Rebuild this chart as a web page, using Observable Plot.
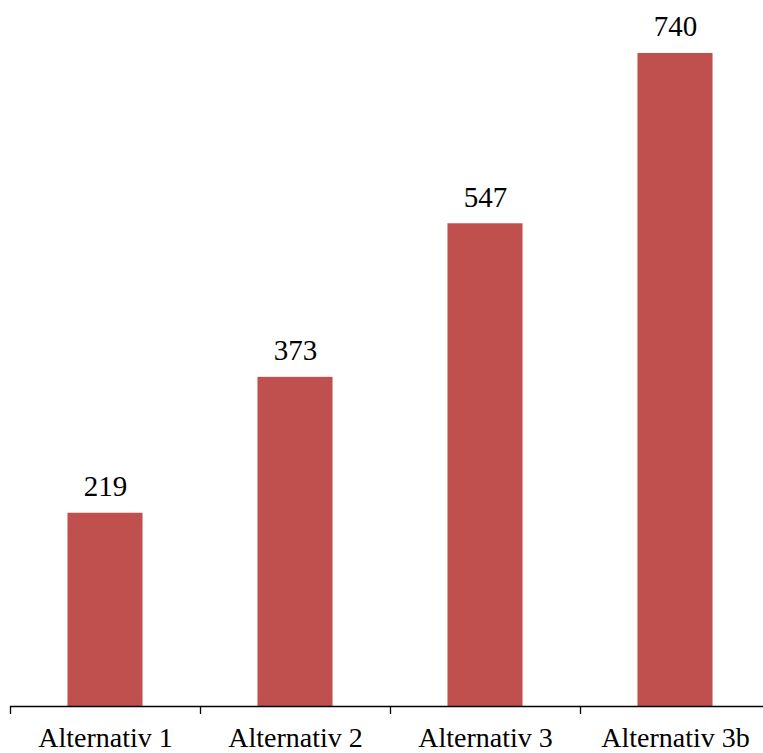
<!DOCTYPE html>
<html>
<head>
<meta charset="utf-8">
<script src="https://cdn.jsdelivr.net/npm/d3@7"></script>
<script src="https://cdn.jsdelivr.net/npm/@observablehq/plot@0.6"></script>
<style>
  html, body { margin: 0; padding: 0; background: #fff; overflow: hidden; }
  #chart svg { display: block; }
  #chart svg, #chart svg text { font-family: "Liberation Serif", "Times New Roman", Times, serif !important; }
</style>
</head>
<body>
<div id="chart"></div>
<script>
// Values per alternative
const categories = ["Alternativ 1", "Alternativ 2", "Alternativ 3", "Alternativ 3b"];
const values = [219, 373, 547, 740];
const yMax = 800;

const rows = categories.map((c, i) => ({category: c, value: values[i]}));

const width = 763;
const height = 753;
const marginLeft = 10;
const marginRight = -7;
const step = (width - marginLeft - marginRight) / categories.length;
const font = "Liberation Serif, Times New Roman, Times, serif";
const barColor = "#C0504D";

const chart = Plot.plot({
  width,
  height,
  marginLeft,
  marginRight,
  marginTop: 0,
  marginBottom: 47,
  style: {background: "#fff", color: "#000"},
  x: {domain: categories, paddingInner: 0.605, paddingOuter: 0.3025, align: 0.5, round: false, label: null},
  y: {domain: [0, yMax], axis: null},
  marks: [
    Plot.barY(rows, {x: "category", y: "value", fill: barColor}),
    Plot.text(rows, {
      x: "category", y: "value", text: d => String(d.value),
      lineAnchor: "bottom", dy: -17, fontSize: 29, fontFamily: font, fill: "#000"
    }),
    Plot.ruleY([0], {stroke: "#000", strokeWidth: 1.3}),
    // category boundary ticks below the baseline
    Plot.ruleX(categories, {x: d => d, y1: 0, y2: 0, dx: -step / 2, insetBottom: -8, stroke: "#000", strokeWidth: 1.3}),
    Plot.ruleX(categories.slice(-1), {x: d => d, y1: 0, y2: 0, dx: step / 2, insetBottom: -8, stroke: "#000", strokeWidth: 1.3}),
    Plot.axisX({tickSize: 0, tickPadding: 21, fontSize: 28, fontFamily: font, fill: "#000", label: null})
  ]
});

document.getElementById("chart").append(chart);
</script>
</body>
</html>
